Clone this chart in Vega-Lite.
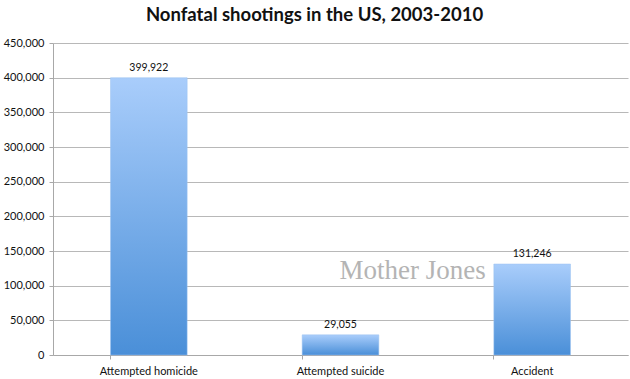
{
  "$schema": "https://vega.github.io/schema/vega-lite/v6.json",
  "width": 575,
  "height": 312,
  "autosize": {"type": "none"},
  "padding": {"left": 53, "top": 43, "right": 2, "bottom": 23},
  "background": "white",
  "title": {
    "text": "Nonfatal shootings in the US, 2003-2010",
    "font": "Lato",
    "fontSize": 18.5,
    "fontWeight": "bold",
    "color": "#111111",
    "anchor": "middle",
    "dx": -26,
    "offset": 13
  },
  "config": {
    "view": {"stroke": null},
    "font": "Lato"
  },
  "data": {
    "values": [
      {"category": "Attempted homicide", "value": 399922},
      {"category": "Attempted suicide", "value": 29055},
      {"category": "Accident", "value": 131246}
    ]
  },
  "encoding": {
    "x": {
      "field": "category",
      "type": "nominal",
      "sort": null,
      "scale": {"domain": ["Attempted homicide", "Attempted suicide", "Accident"], "paddingInner": 0.6, "paddingOuter": 0.3},
      "axis": {
        "title": null,
        "labelAngle": 0,
        "labelFont": "Lato",
        "labelFontSize": 11,
        "labelColor": "#111111",
        "labelPadding": 6,
        "domainColor": "#a8a8a8",
        "tickColor": "#a8a8a8",
        "tickSize": 4,
        "bandPosition": 0,
        "ticks": true,
        "grid": false
      }
    },
    "y": {
      "field": "value",
      "type": "quantitative",
      "scale": {"domain": [0, 450000]},
      "axis": {
        "title": null,
        "values": [0, 50000, 100000, 150000, 200000, 250000, 300000, 350000, 400000, 450000],
        "format": ",d",
        "labelFont": "Lato",
        "labelFontSize": 11,
        "labelColor": "#111111",
        "labelPadding": 5,
        "domainColor": "#a8a8a8",
        "tickColor": "#a8a8a8",
        "tickSize": 4,
        "grid": true,
        "gridColor": "#b8b8b8",
        "gridWidth": 1.2
      }
    }
  },
  "layer": [
    {
      "mark": {
        "type": "bar",
        "stroke": "#9cc2f0",
        "strokeWidth": 0.5,
        "color": {
          "gradient": "linear",
          "x1": 0, "y1": 0, "x2": 0, "y2": 1,
          "stops": [
            {"offset": 0, "color": "#a9cdfb"},
            {"offset": 1, "color": "#4a8fd8"}
          ]
        }
      }
    },
    {
      "mark": {
        "type": "text",
        "font": "Lato",
        "fontSize": 10.5,
        "color": "#111111",
        "baseline": "alphabetic",
        "dy": -7
      },
      "encoding": {
        "text": {"field": "value", "type": "quantitative", "format": ",d"}
      }
    },
    {
      "data": {"values": [{"category": "Attempted suicide", "value": 110000, "label": "Mother Jones"}]},
      "mark": {
        "type": "text",
        "font": "Liberation Serif",
        "fontSize": 27,
        "color": "#b4b4b4",
        "align": "left",
        "baseline": "alphabetic",
        "dx": -1
      },
      "encoding": {
        "text": {"field": "label", "type": "nominal"}
      }
    }
  ]
}
